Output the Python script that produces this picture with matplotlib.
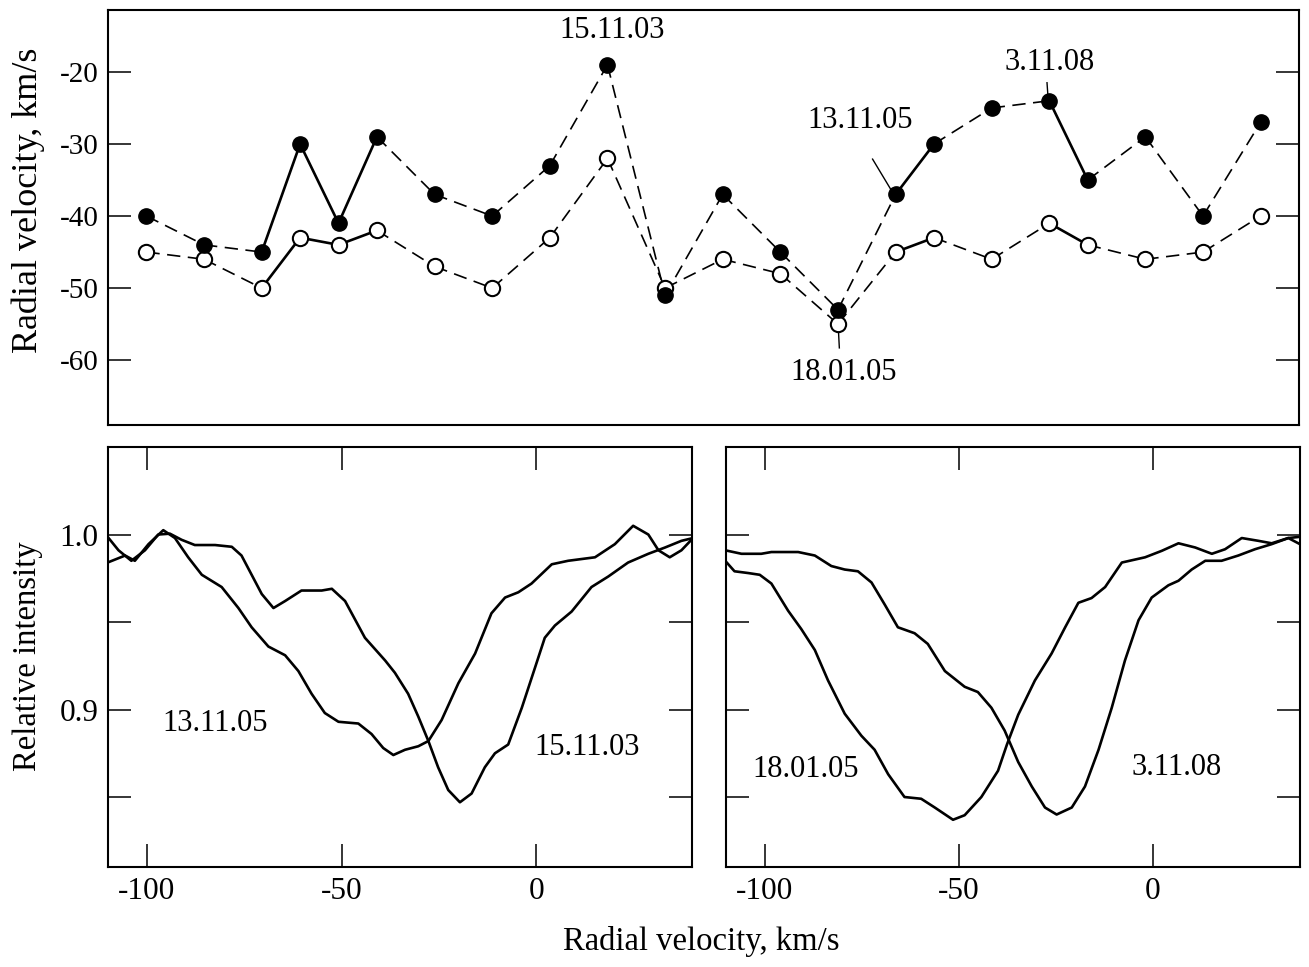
import matplotlib
matplotlib.use("Agg")
import matplotlib.pyplot as plt

plt.rcParams['font.family'] = ['Liberation Serif', 'DejaVu Serif']
plt.rcParams['axes.unicode_minus'] = False

# top panel: observation sequence (position in thirds of a step)
obs_x = [0, 3, 6, 8, 10, 12, 15, 18, 21, 24, 27, 30, 33, 36, 39, 41, 44, 47, 49, 52, 55, 58]
vr_filled = [-40, -44, -45, -30, -41, -29, -37, -40, -33, -19, -51, -37, -45, -53,
             -37, -30, -25, -24, -35, -29, -40, -27]
vr_open = [-45, -46, -50, -43, -44, -42, -47, -50, -43, -32, -50, -46, -48, -55,
           -45, -43, -46, -41, -44, -46, -45, -40]

# bottom left: profiles 15.11.03 and 13.11.05
v_151103 = [-110.1, -107.3, -104.0, -100.5, -97.1, -94.1, -91.1, -87.7, -82.5, -78.2,
            -75.7, -73.1, -70.5, -67.5, -64.5, -60.3, -55.1, -52.5, -49.1, -44.0,
            -38.8, -36.3, -32.9, -30.3, -27.7, -25.2, -22.6, -19.6, -16.6, -13.2,
            -10.6, -7.2, -3.7, -0.3, 2.2, 4.8, 9.1, 14.2, 18.5, 23.6,
            28.8, 33.1, 37.3, 40.3]
i_151103 = [0.9987, 0.991, 0.985, 0.991, 1.000, 1.0005, 0.997, 0.994, 0.994, 0.993,
            0.988, 0.977, 0.966, 0.958, 0.962, 0.968, 0.968, 0.969, 0.962, 0.941,
            0.928, 0.921, 0.909, 0.896, 0.882, 0.867, 0.854, 0.847, 0.852, 0.867,
            0.875, 0.880, 0.901, 0.924, 0.941, 0.948, 0.956, 0.970, 0.976, 0.984,
            0.989, 0.9926, 0.9964, 0.998]
v_131105 = [-110.1, -105.6, -103.1, -99.6, -95.8, -92.8, -89.4, -85.9, -80.8, -76.5,
            -73.1, -68.8, -64.5, -61.1, -57.7, -54.3, -50.8, -45.7, -42.3, -39.3,
            -36.7, -33.7, -30.3, -27.7, -24.3, -20.0, -15.7, -11.5, -8.0, -4.6,
            -1.2, 4.0, 8.2, 15.1, 20.2, 24.9, 28.8, 31.4, 34.3, 37.3, 40.3]
i_131105 = [0.984, 0.988, 0.985, 0.9945, 1.0025, 0.998, 0.987, 0.977, 0.970, 0.958,
            0.947, 0.936, 0.931, 0.922, 0.909, 0.898, 0.893, 0.892, 0.886, 0.878,
            0.874, 0.877, 0.879, 0.882, 0.894, 0.915, 0.932, 0.955, 0.964, 0.967,
            0.972, 0.983, 0.985, 0.987, 0.9945, 1.005, 1.000, 0.991, 0.987, 0.991, 0.998]

# bottom right: profiles 18.01.05 and 3.11.08
v_180105 = [-110.2, -107.8, -104.3, -101.3, -98.3, -94.0, -90.6, -87.1, -83.7, -79.4,
            -75.1, -71.7, -68.2, -64.0, -59.7, -56.2, -51.5, -48.5, -44.2, -39.9,
            -37.6, -34.7, -30.4, -26.1, -22.6, -19.2, -15.8, -12.3, -8.0, -2.0,
            2.3, 6.6, 10.9, 15.2, 18.6, 22.9, 27.2, 30.6, 34.9, 37.9]
i_180105 = [0.985, 0.979, 0.978, 0.977, 0.972, 0.9565, 0.946, 0.934, 0.9166, 0.8976,
            0.885, 0.877, 0.863, 0.850, 0.849, 0.844, 0.837, 0.8396, 0.850, 0.865,
            0.880, 0.897, 0.9166, 0.932, 0.947, 0.961, 0.9637, 0.970, 0.984, 0.987,
            0.9907, 0.995, 0.9926, 0.989, 0.9916, 0.998, 0.9964, 0.995, 0.998, 0.9945]
v_031108 = [-110.2, -106.0, -100.9, -98.3, -91.4, -87.1, -82.85, -79.4, -76.0, -72.5,
            -69.1, -65.7, -61.4, -58.0, -53.6, -48.5, -45.1, -41.6, -38.2, -34.7,
            -31.2, -27.8, -24.8, -20.9, -17.5, -14.0, -10.6, -7.2, -3.7, -0.3,
            4.0, 6.6, 10.0, 13.5, 17.7, 22.0, 26.3, 30.6, 34.9, 37.9]
i_031108 = [0.991, 0.989, 0.989, 0.990, 0.990, 0.988, 0.982, 0.980, 0.979, 0.9726,
            0.960, 0.947, 0.9436, 0.9375, 0.922, 0.913, 0.910, 0.901, 0.888, 0.870,
            0.856, 0.844, 0.840, 0.844, 0.856, 0.877, 0.901, 0.928, 0.951, 0.964,
            0.971, 0.9736, 0.980, 0.985, 0.985, 0.988, 0.9916, 0.9945, 0.998, 0.9987]

fig = plt.figure(figsize=(13.09, 9.67), dpi=100)

ax_top = fig.add_axes([0.0825, 0.5605, 0.9099, 0.4292])
ax_l = fig.add_axes([0.0825, 0.1034, 0.4461, 0.4343])
ax_r = fig.add_axes([0.5546, 0.1034, 0.4385, 0.4343])

for ax in (ax_top, ax_l, ax_r):
    for s in ax.spines.values():
        s.set_linewidth(1.5)

# top panel: solid between close epochs, dashed otherwise
for yy in (vr_filled, vr_open):
    for i in range(len(obs_x) - 1):
        close = obs_x[i + 1] - obs_x[i] < 3
        if close:
            ax_top.plot(obs_x[i:i + 2], yy[i:i + 2], color='black', lw=1.9,
                        solid_capstyle='round', zorder=2)
        else:
            ax_top.plot(obs_x[i:i + 2], yy[i:i + 2], color='black', lw=1.2,
                        dashes=(8, 4.5), zorder=2)

ax_top.plot(obs_x, vr_open, 'o', ms=11, mfc='white', mec='black', mew=1.5,
            ls='none', zorder=3)
ax_top.plot(obs_x, vr_filled, 'o', ms=11, mfc='black', mec='black', ls='none', zorder=3)

ax_top.set_xlim(-2, 60)
ax_top.set_ylim(-69, -11.4)
ax_top.set_xticks([])
ax_top.set_yticks([-20, -30, -40, -50, -60])
ax_top.tick_params(axis='y', direction='in', length=16.5, width=1.1, right=True,
                   labelsize=21, pad=7)

ax_top.text(24.25, -15.3, "15.11.03", ha='center', va='baseline', fontsize=22)
ax_top.text(37.15, -27.8, "13.11.05", ha='center', va='baseline', fontsize=22)
ax_top.plot([37.8, 38.77], [-32.1, -36.4], color='black', lw=1.0)
ax_top.text(47.0, -19.7, "3.11.08", ha='center', va='baseline', fontsize=22)
ax_top.plot([46.88, 46.93], [-21.5, -23.4], color='black', lw=1.0)
ax_top.text(36.3, -62.8, "18.01.05", ha='center', va='baseline', fontsize=22)
ax_top.plot([36.03, 36.07], [-56.25, -58.3], color='black', lw=1.0)

# bottom panels
for ax, vv, ii in ((ax_l, v_151103, i_151103), (ax_l, v_131105, i_131105),
                   (ax_r, v_180105, i_180105), (ax_r, v_031108, i_031108)):
    ax.plot(vv, ii, color='black', lw=1.9, solid_joinstyle='round')

ax_l.set_xlim(-110, 40)
ax_r.set_xlim(-110, 37.9)
for ax in (ax_l, ax_r):
    ax.set_ylim(0.81, 1.05)
    ax.set_xticks([-100, -50, 0])
    ax.set_xticklabels(['-100', '-50', '0'])
    ax.set_yticks([0.85, 0.9, 0.95, 1.0])
    ax.tick_params(direction='in', length=16.5, width=1.1, top=True, right=True,
                   labelsize=22.5, pad=7)
ax_l.set_yticklabels(['', '0.9', '', '1.0'])
ax_r.set_yticklabels([])

ax_l.text(-82.6, 0.888, "13.11.05", ha='center', va='baseline', fontsize=22)
ax_l.text(13.2, 0.8738, "15.11.03", ha='center', va='baseline', fontsize=22)
ax_r.text(-89.4, 0.8615, "18.01.05", ha='center', va='baseline', fontsize=22)
ax_r.text(6.2, 0.8624, "3.11.08", ha='center', va='baseline', fontsize=22)

fig.text(0.0214, 0.7932, "Radial velocity, km/s", rotation=90, ha='center', va='center',
         fontsize=26)
fig.text(0.0214, 0.3216, "Relative intensity", rotation=90, ha='center', va='center',
         fontsize=23.5)
fig.text(0.5355, 0.0259, "Radial velocity, km/s", ha='center', va='center', fontsize=23.5)

fig.savefig("out.png", dpi=100)
